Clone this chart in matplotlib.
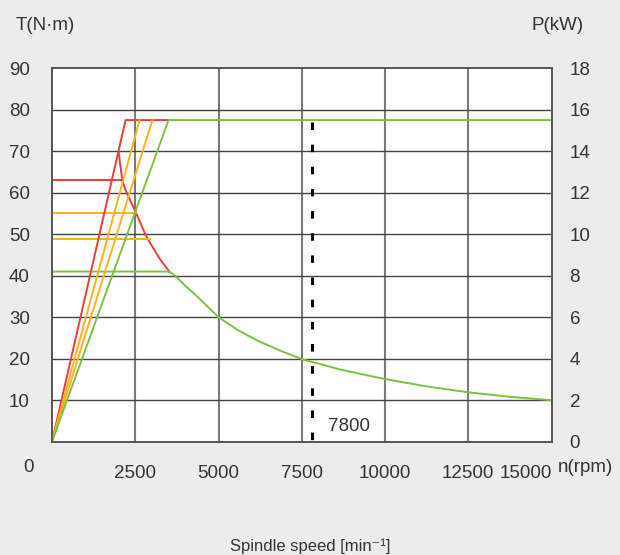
"""Spindle torque / power diagram."""
import matplotlib
matplotlib.use("Agg")
import matplotlib.pyplot as plt

# power curves (kW) vs speed (rpm)
red_pow_n = [0, 2210, 3500]
red_pow_kw = [0, 15.5, 15.5]
orange1_pow_n = [0, 2630]
orange1_pow_kw = [0, 15.5]
orange2_pow_n = [0, 3015]
orange2_pow_kw = [0, 15.5]
green_pow_n = [0, 3500, 15000]
green_pow_kw = [0, 15.5, 15.5]

# torque curves (N·m) vs speed (rpm)
red_tq_flat_n = [0, 2110]
red_tq_flat = [63, 63]
red_tq_n = [2000, 2110, 2210, 2530, 2800, 2880, 3200, 3520]
red_tq = [69.9, 63, 60.6, 55, 50, 48.8, 44.5, 41]
orange1_tq_n = [0, 2530]
orange1_tq = [55, 55]
orange2_tq_n = [0, 2950]
orange2_tq = [48.8, 48.8]
green_tq_n = [0, 3520, 3700, 4000, 4320, 5000, 5600, 6210, 6900, 7500, 8700,
              10000, 11190, 12500, 13770, 15000]
green_tq = [41, 41, 40, 37.6, 35.3, 30, 26.8, 24.2, 21.8, 19.9, 17.3,
            15.1, 13.4, 11.9, 10.8, 10]

limit_rpm = 7800
limit_top = 77

x_ticks = [2500, 5000, 7500, 10000, 12500, 15000]
t_ticks = [10, 20, 30, 40, 50, 60, 70, 80, 90]
p_ticks = [0, 2, 4, 6, 8, 10, 12, 14, 16, 18]

RED = "#ee3b3b"
ORANGE = "#ffb21c"
GREEN = "#7dc142"
TXT = "#333333"
BG = "#ebeceb"
FS = 13.5

plt.rcParams["font.family"] = ["Liberation Sans", "DejaVu Sans"]

W, H = 620, 555
fig = plt.figure(figsize=(W / 100, H / 100), dpi=100, facecolor=BG)
ax = fig.add_axes([52 / W, (H - 441.7) / H, (551.5 - 52) / W, (441.7 - 68.2) / H])
ax.set_facecolor("white")
ax2 = ax.twinx()

ax.set_xlim(0, 15000)
ax.set_ylim(0, 90)
ax2.set_ylim(0, 18)

# grid
for x in [2500, 5000, 7500, 10000, 12500]:
    ax.axvline(x, color="#7a7a7a", lw=1.5, zorder=1)
for y in t_ticks[:-1]:
    ax.axhline(y, color="#444444", lw=1.0, zorder=1)

# power lines (right axis)
ax2.plot(red_pow_n, red_pow_kw, color=RED, lw=1.4)
ax2.plot(orange1_pow_n, orange1_pow_kw, color=ORANGE, lw=1.4)
ax2.plot(orange2_pow_n, orange2_pow_kw, color=ORANGE, lw=1.4)
ax2.plot(green_pow_n, green_pow_kw, color=GREEN, lw=1.4)

# torque lines (left axis)
ax.plot(red_tq_flat_n, red_tq_flat, color=RED, lw=1.4, zorder=3)
ax.plot(red_tq_n, red_tq, color=RED, lw=1.4, zorder=3)
ax.plot(orange1_tq_n, orange1_tq, color=ORANGE, lw=1.4, zorder=3)
ax.plot(orange2_tq_n, orange2_tq, color=ORANGE, lw=1.4, zorder=3)
ax.plot(green_tq_n, green_tq, color=GREEN, lw=1.4, zorder=3)

# max speed marker (drawn top-down so the dash pattern starts at the top)
ax2.plot([limit_rpm, limit_rpm], [limit_top / 5, 0], color="black", lw=2.2,
         linestyle=(0, (2.45, 4.8)), solid_capstyle="butt", zorder=5)
ax.text(limit_rpm + 480, 3.6, str(limit_rpm), fontsize=FS, color=TXT,
        ha="left", va="center")

# axes styling
for a in (ax, ax2):
    for s in a.spines.values():
        s.set_color("#555555")
        s.set_linewidth(1.2)
    a.tick_params(length=0, colors=TXT, labelsize=FS)

ax.set_xticks(x_ticks)
ax.set_xticklabels([str(v) for v in x_ticks])
ax.tick_params(axis="x", pad=17)
ax.get_xticklabels()[-1].set_horizontalalignment("right")
ax.set_yticks(t_ticks)
ax.tick_params(axis="y", pad=16)
ax2.set_yticks(p_ticks)
ax2.tick_params(axis="y", pad=13)

fig.text(29 / W, 1 - 468 / H, "0", fontsize=FS, color=TXT, ha="center", va="center")
fig.text(558 / W, 1 - 468 / H, "n(rpm)", fontsize=FS, color=TXT, ha="left", va="center")
fig.text(16 / W, 1 - 26 / H, "T(N·m)", fontsize=FS, color=TXT, ha="left", va="center")
fig.text(584 / W, 1 - 26 / H, "P(kW)", fontsize=FS, color=TXT, ha="right", va="center")
fig.text(310 / W, 1 - 546 / H, "Spindle speed [min⁻¹]", fontsize=12, color=TXT,
         ha="center", va="center")

fig.savefig("out.png", dpi=100, facecolor=BG)
